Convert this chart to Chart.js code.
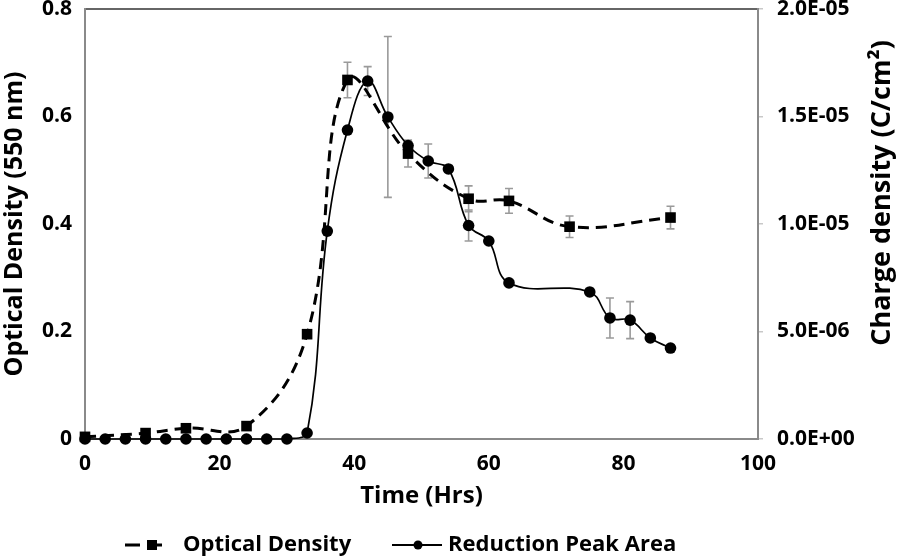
<!DOCTYPE html>
<html>
<head>
<meta charset="utf-8">
<script src="https://cdn.jsdelivr.net/npm/chart.js@4.4.1/dist/chart.umd.min.js"></script>
<style>
  html, body { margin: 0; padding: 0; background: #fff; }
  canvas { display: block; }
</style>
</head>
<body>
<canvas id="c" width="898" height="560"></canvas>
<script>
// ---- Data ----
const odHours  = [0, 9, 15, 24, 33, 39, 48, 57, 63, 72, 87];
const odValues = [0.004, 0.011, 0.020, 0.024, 0.195, 0.668, 0.531, 0.447, 0.443, 0.395, 0.412];
const odErrors = [0, 0, 0, 0, 0, 0.033, 0.025, 0.024, 0.023, 0.020, 0.021];

const rpaHours  = [0, 3, 6, 9, 12, 15, 18, 21, 24, 27, 30, 33, 36, 39, 42, 45, 48, 51, 54, 57, 60, 63, 75, 78, 81, 84, 87];
const rpaValues = [0, 0, 0, 0, 0, 0, 0, 0, 0, 0, 0, 2.8e-7, 9.67e-6, 1.437e-5, 1.665e-5, 1.498e-5, 1.365e-5, 1.293e-5, 1.256e-5, 9.93e-6, 9.21e-6, 7.26e-6, 6.84e-6, 5.63e-6, 5.53e-6, 4.70e-6, 4.23e-6];
const rpaErrors = [0, 0, 0, 0, 0, 0, 0, 0, 0, 0, 0, 0, 0, 0, 6.7e-7, 3.74e-6, 0, 7.9e-7, 0, 7.2e-7, 0, 0, 0, 9.3e-7, 8.6e-7, 0, 0];

const seriesNames = ['Optical Density', 'Reduction Peak Area'];
const xTitle = 'Time (Hrs)';
const yLeftTitle = 'Optical Density (550 nm)';
const yRightTitle = 'Charge density (C/cm\u00B2)';
const xTicks = [0, 20, 40, 60, 80, 100];
const yLeftTicks = [0, 0.2, 0.4, 0.6, 0.8];
const yRightTicks = [0, 5e-6, 1e-5, 1.5e-5, 2e-5];

// ---- Styling ----
const FONT = '"Open Sans", "Liberation Sans", sans-serif';
const AXIS_GREY = '#8a8a8a';
const ERR_GREY = '#9a9a9a';

function sci(v) {
  const parts = Number(v).toExponential(1).split('e');
  const e = parseInt(parts[1], 10);
  const sign = e < 0 ? '-' : '+';
  const abs = Math.abs(e);
  return parts[0] + 'E' + sign + (abs < 10 ? '0' + abs : '' + abs);
}

const toPts = (xs, ys) => xs.map((x, i) => ({ x: x, y: ys[i] }));

// Error bars drawn through the chart's own scales
const errorBarPlugin = {
  id: 'errorBars',
  beforeDatasetsDraw(chart) {
    const ctx = chart.ctx;
    const xs = chart.scales.x;
    ctx.save();
    ctx.strokeStyle = ERR_GREY;
    ctx.lineWidth = 1.6;
    chart.data.datasets.forEach((ds) => {
      const ys = chart.scales[ds.yAxisID];
      (ds.errors || []).forEach((err, i) => {
        if (!err) return;
        const p = ds.data[i];
        const px = xs.getPixelForValue(p.x);
        const yt = ys.getPixelForValue(p.y + err);
        const yb = ys.getPixelForValue(p.y - err);
        ctx.beginPath();
        ctx.moveTo(px, yt); ctx.lineTo(px, yb);
        ctx.moveTo(px - 4, yt); ctx.lineTo(px + 4, yt);
        ctx.moveTo(px - 4, yb); ctx.lineTo(px + 4, yb);
        ctx.stroke();
      });
    });
    ctx.restore();
  }
};

// Right-axis title (reads bottom-to-top as in the reference) and legend
const extrasPlugin = {
  id: 'extras',
  afterDraw(chart) {
    const ctx = chart.ctx;
    const ys = chart.scales.y1;
    ctx.save();
    ctx.fillStyle = '#000';
    ctx.font = 'bold 27px ' + FONT;
    ctx.textAlign = 'center';
    ctx.textBaseline = 'middle';
    ctx.translate(882, (ys.top + ys.bottom) / 2 - 31);
    ctx.rotate(-Math.PI / 2);
    ctx.fillText(yRightTitle, 0, 0);
    ctx.restore();

    // legend
    const ly = 545;
    const ds0 = chart.data.datasets[0];
    const ds1 = chart.data.datasets[1];
    ctx.save();
    ctx.strokeStyle = '#000';
    ctx.fillStyle = '#000';
    // item 1: dashed line + square
    ctx.lineWidth = 3;
    ctx.setLineDash([15, 7]);
    ctx.beginPath(); ctx.moveTo(125, ly); ctx.lineTo(166, ly); ctx.stroke();
    ctx.setLineDash([]);
    ctx.fillRect(147, ly - 5, 10, 10);
    ctx.font = 'bold 22px ' + FONT;
    ctx.textAlign = 'left';
    ctx.textBaseline = 'middle';
    ctx.fillText(ds0.label, 183, ly);
    // item 2: solid line + circle
    ctx.lineWidth = 2;
    ctx.beginPath(); ctx.moveTo(392, ly); ctx.lineTo(442, ly); ctx.stroke();
    ctx.beginPath(); ctx.arc(418, ly, 4.5, 0, Math.PI * 2); ctx.fill();
    ctx.fillText(ds1.label, 448, ly);
    ctx.restore();
  }
};

const tickFont = { family: FONT, size: 21, weight: 'bold' };
const titleFont = { family: FONT, size: 24, weight: 'bold' };
const yTitleFont = { family: FONT, size: 25, weight: 'bold' };

const noPadV = (w) => (s) => { s.width = w; s.paddingTop = 0; s.paddingBottom = 0; };
const noPadH = (h) => (s) => { s.height = h; s.paddingLeft = 0; s.paddingRight = 0; };

new Chart(document.getElementById('c'), {
  type: 'line',
  data: {
    datasets: [
      {
        label: seriesNames[0],
        data: toPts(odHours, odValues),
        errors: odErrors,
        yAxisID: 'y',
        borderColor: '#000',
        backgroundColor: '#000',
        borderWidth: 3,
        borderDash: [11, 7],
        tension: 0.4,
        pointStyle: 'rect',
        pointRadius: 7.5,
        pointBorderWidth: 0,
        clip: false
      },
      {
        label: seriesNames[1],
        data: toPts(rpaHours, rpaValues),
        errors: rpaErrors,
        yAxisID: 'y1',
        borderColor: '#000',
        backgroundColor: '#000',
        borderWidth: 1.7,
        tension: 0.4,
        pointStyle: 'circle',
        pointRadius: 5.8,
        pointBorderWidth: 0,
        clip: false
      }
    ]
  },
  options: {
    responsive: false,
    animation: false,
    events: [],
    layout: { padding: 0 },
    plugins: {
      legend: { display: false },
      tooltip: { enabled: false }
    },
    scales: {
      x: {
        type: 'linear',
        position: 'bottom',
        min: xTicks[0],
        max: xTicks[xTicks.length - 1],
        afterBuildTicks: (s) => { s.ticks = xTicks.map(v => ({ value: v })); },
        grid: { display: false, drawTicks: false },
        border: { display: true, color: AXIS_GREY, width: 2 },
        ticks: { font: tickFont, color: '#000', padding: 12, maxRotation: 0 },
        title: { display: true, text: xTitle, font: titleFont, color: '#000', padding: { top: 0, bottom: 49 } },
        afterFit: noPadH(121)
      },
      x2: {
        type: 'linear',
        position: 'top',
        min: xTicks[0],
        max: xTicks[xTicks.length - 1],
        grid: { display: false, drawTicks: false },
        border: { display: true, color: '#666', width: 2 },
        ticks: { display: false },
        afterFit: noPadH(9)
      },
      y: {
        type: 'linear',
        position: 'left',
        min: yLeftTicks[0],
        max: yLeftTicks[yLeftTicks.length - 1],
        afterBuildTicks: (s) => { s.ticks = yLeftTicks.map(v => ({ value: v })); },
        grid: { display: false, drawTicks: false },
        border: { display: true, color: AXIS_GREY, width: 2 },
        ticks: {
          font: tickFont, color: '#000', padding: 13,
          callback: (v) => (v === 0 ? '0' : Number(v).toFixed(1))
        },
        title: { display: true, text: yLeftTitle, font: yTitleFont, color: '#000', padding: { top: 0, bottom: 0 } },
        afterFit: noPadV(85)
      },
      y1: {
        type: 'linear',
        position: 'right',
        min: yRightTicks[0],
        max: yRightTicks[yRightTicks.length - 1],
        afterBuildTicks: (s) => { s.ticks = yRightTicks.map(v => ({ value: v })); },
        grid: { display: true, drawOnChartArea: false, drawTicks: true, tickLength: 5, color: '#c8c8c8', lineWidth: 1.5 },
        border: { display: true, color: AXIS_GREY, width: 2 },
        ticks: { font: tickFont, color: '#000', padding: 14, callback: (v) => sci(v) },
        title: { display: false },
        afterFit: noPadV(140)
      }
    }
  },
  plugins: [errorBarPlugin, extrasPlugin]
});
</script>
</body>
</html>
